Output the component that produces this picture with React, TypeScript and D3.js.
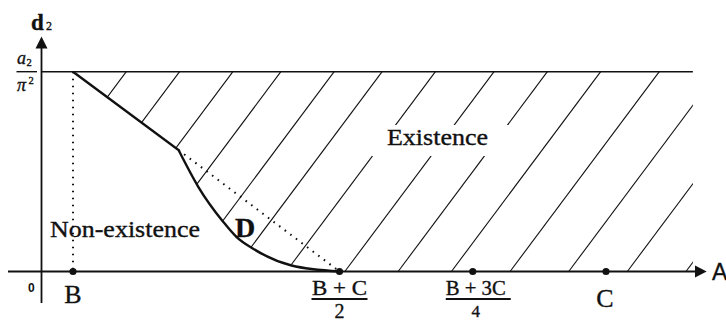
import React from 'react'
import * as d3 from 'd3'

// parameter axis: B = 0, C = 1 ; d2 axis: a2/pi^2 = 1
const markerValues = [0, 0.5, 0.75, 1]
const boundaryX = [0, 0.198, 0.235, 0.282, 0.307, 0.338, 0.41, 0.5]
const boundaryY = [1, 0.608, 0.424, 0.248, 0.172, 0.114, 0.03, 0]
const hatchTop = [0.1, 0.2, 0.3, 0.39, 0.49, 0.58, 0.68, 0.79, 0.89, 0.99, 1.1, 1.21, 1.32, 1.43]
const hatchRun = 0.28
const regionEnd = 1.163

const W = 726
const H = 322

const serif = '"Liberation Serif", "Times New Roman", serif'
const sans = '"Liberation Sans", Arial, sans-serif'

// scanned look: slightly heavier glyphs
const ink = { fill: '#111', stroke: '#111', strokeWidth: 0.35 }

export default function App() {
  const x = d3.scaleLinear().domain([0, 1]).range([73, 606])
  const y = d3.scaleLinear().domain([0, 1]).range([271.5, 71.7])

  const axisX = 41.5
  const axisY = y(0)

  const curvePts = boundaryX.slice(1).map((v, i) => [x(v), y(boundaryY[i + 1])] as [number, number])
  const curve = d3.line().curve(d3.curveMonotoneX)(curvePts) || ''
  const start = [x(boundaryX[0]), y(boundaryY[0])]
  const kink = curvePts[0]
  const boundary = `M${start[0]},${start[1]}L` + curve.slice(1)
  const clipD = `M${x(regionEnd)},${y(0)}L${x(regionEnd)},${y(1)}L${start[0]},${start[1]}L` + curve.slice(1) + 'Z'

  return (
    <svg width={W} height={H} style={{ position: 'absolute', left: 0, top: 0, background: '#fff' }}>
      <defs>
        <clipPath id="exist">
          <path d={clipD} />
        </clipPath>
      </defs>

      {/* hatching of the existence region */}
      <g clipPath="url(#exist)" stroke="#111" strokeWidth={1.1}>
        {hatchTop.map((t, i) => (
          <line key={i} x1={x(t - hatchRun)} y1={y(0)} x2={x(t)} y2={y(1)} />
        ))}
      </g>
      <rect x={345} y={125} width={167} height={31} fill="#fff" />

      {/* top bound a2/pi^2 */}
      <line x1={axisX} x2={x(regionEnd)} y1={y(1)} y2={y(1)} stroke="#111" strokeWidth={1.6} />

      {/* boundary curve */}
      <path d={boundary} fill="none" stroke="#111" strokeWidth={2.4} />

      {/* dotted guides */}
      <line x1={x(0)} x2={x(0)} y1={y(1)} y2={y(0)} stroke="#111" strokeWidth={2} strokeDasharray="1.6,5.4" />
      <line x1={kink[0]} y1={kink[1]} x2={x(0.5)} y2={y(0)} stroke="#111" strokeWidth={2} strokeDasharray="1.6,5.4" />

      {/* axes */}
      <line x1={8} x2={698} y1={axisY} y2={axisY} stroke="#111" strokeWidth={1.8} />
      <polygon points={`${706.7},${axisY} ${695},${axisY - 6} ${695},${axisY + 6}`} fill="#111" />
      <line x1={axisX} x2={axisX} y1={45} y2={303} stroke="#111" strokeWidth={1.8} />
      <polygon points={`${axisX},${36.5} ${axisX - 6},${48.5} ${axisX + 6},${48.5}`} fill="#111" />

      {/* markers */}
      {markerValues.map((v, i) => (
        <circle key={i} cx={x(v)} cy={axisY} r={3.6} fill="#111" />
      ))}

      {/* axis labels */}
      <text x={31} y={30} fontFamily={serif} fontWeight="bold" fontSize={23} {...ink}>d</text>
      <text x={46} y={30} fontFamily={serif} fontSize={12} {...ink}>2</text>
      <text x={712} y={280} fontFamily={sans} fontSize={23} {...ink}>A</text>

      <text x={17} y={64} fontFamily={serif} fontStyle="italic" fontSize={18} {...ink}>a</text>
      <text x={26.5} y={66} fontFamily={serif} fontSize={10.5} {...ink}>2</text>
      <line x1={16.5} x2={37} y1={y(1)} y2={y(1)} stroke="#111" strokeWidth={1.4} />
      <text x={17} y={91} fontFamily={serif} fontStyle="italic" fontSize={18} {...ink}>π</text>
      <text x={28.5} y={84} fontFamily={serif} fontSize={10.5} {...ink}>2</text>

      <text x={28} y={292} fontFamily={sans} fontWeight="bold" fontSize={12} fill="#111">0</text>

      {/* tick labels */}
      <text x={x(0)} y={303} textAnchor="middle" fontFamily={serif} fontSize={26} {...ink}>B</text>
      <text x={x(1) - 1} y={307} textAnchor="middle" fontFamily={serif} fontSize={26} {...ink}>C</text>

      <text x={x(0.5)} y={295} textAnchor="middle" fontFamily={serif} fontSize={20} {...ink}
        textLength={55} lengthAdjust="spacingAndGlyphs">B + C</text>
      <line x1={x(0.5) - 28} x2={x(0.5) + 28} y1={299} y2={299} stroke="#111" strokeWidth={2} />
      <text x={x(0.5)} y={318} textAnchor="middle" fontFamily={serif} fontSize={20} {...ink}>2</text>

      <text x={x(0.75) + 3} y={295} textAnchor="middle" fontFamily={serif} fontSize={20} {...ink}
        textLength={60} lengthAdjust="spacingAndGlyphs">B + 3C</text>
      <line x1={x(0.75) - 27} x2={x(0.75) + 38} y1={299} y2={299} stroke="#111" strokeWidth={2} />
      <text x={x(0.75) + 3} y={317} textAnchor="middle" fontFamily={serif} fontSize={17} {...ink}>4</text>

      {/* region labels */}
      <text x={50} y={237} fontFamily={serif} fontSize={23} {...ink}
        textLength={150} lengthAdjust="spacingAndGlyphs">Non-existence</text>
      <text x={387} y={145} fontFamily={serif} fontSize={23} {...ink}
        textLength={101} lengthAdjust="spacingAndGlyphs">Existence</text>
      <text x={235} y={237} fontFamily={serif} fontWeight="bold" fontSize={28} {...ink}>D</text>
    </svg>
  )
}
